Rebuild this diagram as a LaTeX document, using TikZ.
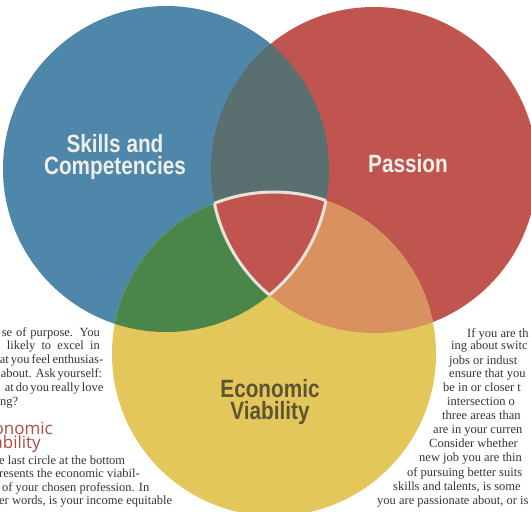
\documentclass[tikz,border=0pt]{standalone}
\usepackage{fontspec}
\setmainfont{Liberation Serif}
\newfontfamily\headfont[FakeStretch=0.83]{Liberation Sans}
\newfontfamily\lightsans{Open Sans}
\definecolor{cblue}{HTML}{4E87A9}
\definecolor{cred}{HTML}{C0554F}
\definecolor{cyellow}{HTML}{E4C75B}
\definecolor{cgray}{HTML}{5A7070}
\definecolor{cgreen}{HTML}{4A8549}
\definecolor{corange}{HTML}{D9925F}
\definecolor{ccenter}{HTML}{C0554F}
\definecolor{cborder}{HTML}{E6E4DA}
\definecolor{ctext}{HTML}{EFEEE8}
\definecolor{colive}{HTML}{5B5532}
\definecolor{chead}{HTML}{B24A45}
\definecolor{cbody}{HTML}{363636}
\newcommand{\jline}[2]{\makebox[#1pt][s]{#2}}
\begin{document}
\begin{tikzpicture}[x=1pt,y=-1pt,
  circlabel/.style={font=\headfont\bfseries\fontsize{25}{22}\selectfont, align=center, inner sep=0pt},
  bodyline/.style={font=\fontsize{12.5}{14}\selectfont, text=cbody, inner sep=0pt},
  headline/.style={font=\lightsans\fontsize{17}{17}\selectfont, text=chead, inner sep=0pt}]
\useasboundingbox (0,0) rectangle (531,512);
\clip (0,0) rectangle (531,512);
\fill[white] (0,0) rectangle (531,512);
\coordinate (B) at (166,169);
\coordinate (R) at (374,170);
\coordinate (Y) at (274,354);
\def\circB{(B) circle[radius=163pt]}
\def\circR{(R) circle[radius=163pt]}
\def\circY{(Y) circle[radius=162pt]}
% base circles
\fill[cblue] \circB;
\fill[cred] \circR;
\fill[cyellow] \circY;
% pairwise overlaps
\begin{scope}\clip \circB; \fill[cgray] \circR; \end{scope}
\begin{scope}\clip \circB; \fill[cgreen] \circY; \end{scope}
\begin{scope}\clip \circR; \fill[corange] \circY; \end{scope}
% triple overlap
\begin{scope}\clip \circB; \clip \circR; \fill[ccenter] \circY; \end{scope}
% border of triple region
\begin{scope}\clip \circB; \clip \circR; \draw[cborder, line width=3pt] \circY; \end{scope}
\begin{scope}\clip \circB; \clip \circY; \draw[cborder, line width=3pt] \circR; \end{scope}
\begin{scope}\clip \circR; \clip \circY; \draw[cborder, line width=3pt] \circB; \end{scope}
% circle labels
\node[circlabel, text=ctext] (skills) at (115,157) {Skills and\\Competencies};
\node[circlabel, text=ctext] (passion) at (408,164) {Passion};
\node[circlabel, text=colive] (econ) at (270,402) {Economic\\Viability};
% left text, upper paragraph
\node[bodyline, anchor=base east] (l1) at (100,336) {\jline{98}{se of purpose. You}};
\node[bodyline, anchor=base east] (l2) at (100,349) {\jline{93}{likely to excel in}};
\node[bodyline, anchor=base east] (l3) at (100,363) {\jline{100}{at you feel enthusias-}};
\node[bodyline, anchor=base east] (l4) at (100,377) {\jline{99}{about. Ask yourself:}};
\node[bodyline, anchor=base east] (l5) at (100,391) {\jline{95}{at do you really love}};
\node[bodyline, anchor=base west] (l6) at (0,405) {ng?};
% heading
\node[headline, anchor=base east] (h1) at (53,434) {onomic};
\node[headline, anchor=base east] (h2) at (41,448) {ability};
% left lower paragraph
\node[bodyline, anchor=base west] (m1) at (-1,464) {e last circle at the bottom};
\node[bodyline, anchor=base west] (m2) at (-1,477) {resents the economic viabil-};
\node[bodyline, anchor=base west] (m3) at (2,491) {of your chosen profession. In};
\node[bodyline, anchor=base west] (m4) at (-1,504) {er words, is your income equitable};
% right text
\node[bodyline, anchor=base west] (r1) at (467,337) {If you are th};
\node[bodyline, anchor=base west] (r2) at (451,349) {ing about switc};
\node[bodyline, anchor=base west] (r3) at (449,364) {jobs or indust};
\node[bodyline, anchor=base west] (r4) at (449,377) {ensure that you};
\node[bodyline, anchor=base west] (r5) at (443,391) {be in or closer t};
\node[bodyline, anchor=base west] (r6) at (447,405) {intersection o};
\node[bodyline, anchor=base west] (r7) at (442,419) {three areas than};
\node[bodyline, anchor=base west] (r8) at (433,433) {are in your curren};
\node[bodyline, anchor=base west] (r9) at (429,447) {Consider whether};
\node[bodyline, anchor=base west] (r10) at (419,461) {new job you are thin};
\node[bodyline, anchor=base west] (r11) at (407,476) {of pursuing better suits};
\node[bodyline, anchor=base west] (r12) at (393,490) {skills and talents, is some};
\node[bodyline, anchor=base west] (r13) at (377,504) {you are passionate about, or is};
\end{tikzpicture}
\end{document}
